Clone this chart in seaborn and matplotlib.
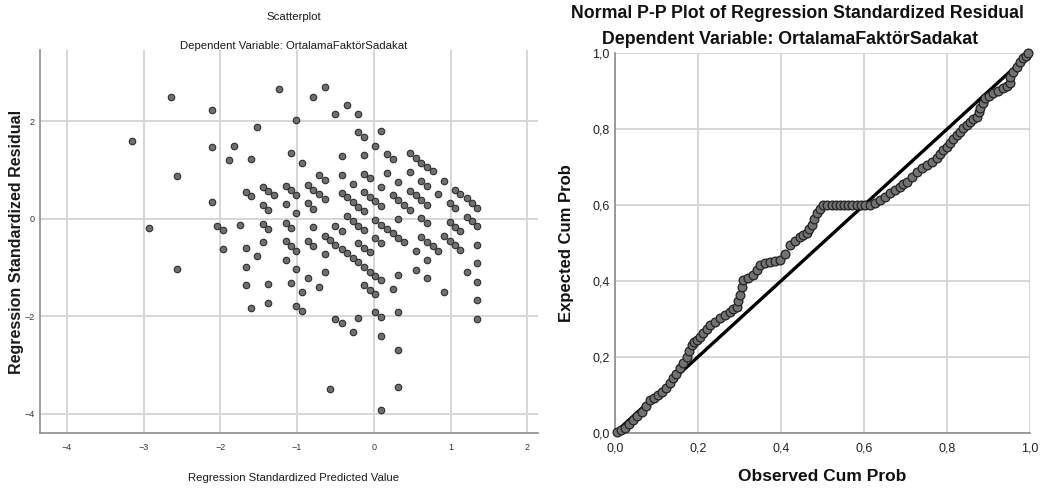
import numpy as np
import pandas as pd
import matplotlib
matplotlib.use("Agg")
import matplotlib.pyplot as plt
import seaborn as sns
from matplotlib.ticker import FuncFormatter

# ---------------- data: scatterplot (predicted vs residual) ----------------
pred_x = [
    -3.15, -2.64, -2.56, -2.93, -2.56,
    -2.11, -1.23, -0.79, -0.64, -0.50, -0.35, -0.20, -1.52, -1.01, -2.11,
    -1.82, -1.89, -1.60, -1.08, -0.94, -0.20, -0.13, 0.02, -0.42, -0.13,
    -0.42, -0.13, -0.05, -0.27, -0.71, -0.64, -0.86, -0.79, -0.71, -0.64,
    -0.42, -0.35, -0.27, -0.20, -0.13, -0.13, -0.05, 0.02, -1.15, -1.08,
    -1.01, -1.45, -1.38, -1.30, -1.67, -1.60, -2.11, -1.45, -1.38, -1.15,
    -1.01, -0.86, -0.79, -2.04, -1.97, -1.75, -1.45, -1.38, -1.15, -1.08,
    -0.79, -0.50, -0.42, -0.35, -0.27, -0.20, -0.13, 0.02, -1.97, -1.67,
    -1.52, -1.45, -1.15, -1.08, -1.01, -0.86, -0.79, -0.64, -0.57, -0.50,
    -0.42, -0.35, -0.27, -0.20, -0.13, -0.05, 0.02, -0.20, -0.13, -0.05,
    0.02, -0.64, -1.67, -1.15, -1.01, -0.86, -0.64, -0.71, -1.08, -0.94,
    -1.67, -1.38, -1.38, -1.60, -1.01, -0.94, -0.13, -0.05, 0.02, 0.02,
    -0.50, -0.42, -0.20, -0.27, -0.57,
    0.10, 0.10, 0.10, 0.10, 0.10, 0.10, 0.10, 0.10, 0.10, 0.17,
    0.25, 0.17, 0.32, 0.25, 0.32, 0.40, 0.47, 0.32, 0.17, 0.25,
    0.32, 0.40, 0.32, 0.25, 0.32, 0.32, 0.32, 0.47, 0.55, 0.62,
    0.69, 0.77, 0.47, 0.62, 0.69, 0.47, 0.55, 0.62, 0.69, 0.62,
    0.69, 0.55, 0.55, 0.62, 0.69, 0.77, 0.84, 0.69, 0.69, 0.84,
    0.91, 0.99, 1.06, 0.99, 1.06, 1.13, 0.91, 0.99, 1.06, 1.13,
    0.91, 1.06, 1.13, 1.21, 1.28, 1.35, 1.21, 1.28, 1.35, 1.35,
    1.35, 1.35, 1.35, 1.35, 1.21,
]
resid_y = [
    1.60, 2.49, 0.87, -0.19, -1.03,
    2.24, 2.67, 2.50, 2.70, 2.14, 2.34, 2.15, 1.89, 2.02, 1.48,
    1.49, 1.20, 1.22, 1.34, 1.15, 1.77, 1.68, 1.50, 1.29, 1.30,
    0.90, 0.92, 0.83, 0.72, 0.89, 0.79, 0.69, 0.59, 0.51, 0.41,
    0.53, 0.44, 0.34, 0.25, 0.15, 0.55, 0.45, 0.36, 0.68, 0.59,
    0.49, 0.66, 0.57, 0.48, 0.55, 0.46, 0.34, 0.28, 0.18, 0.30,
    0.12, 0.32, 0.21, -0.14, -0.23, -0.12, -0.10, -0.20, -0.08, -0.18,
    -0.17, -0.14, -0.24, 0.05, -0.04, -0.14, -0.23, -0.02, -0.61, -0.60,
    -0.77, -0.48, -0.46, -0.56, -0.65, -0.45, -0.55, -0.35, -0.44, -0.53,
    -0.62, -0.71, -0.80, -0.89, -0.99, -1.08, -1.17, -0.50, -0.60, -0.69,
    -0.40, -0.73, -0.98, -0.84, -1.03, -1.21, -1.10, -1.40, -1.32, -1.51,
    -1.36, -1.34, -1.72, -1.83, -1.78, -1.89, -1.36, -1.46, -1.55, -1.92,
    -2.05, -2.14, -2.03, -2.32, -3.49,
    1.79, 0.65, 0.27, -0.12, -0.49, -1.25, -2.01, -2.40, -3.92, 1.32,
    1.23, 0.94, 0.75, 0.48, 0.38, 0.29, 0.19, -0.01, -0.21, -0.30,
    -0.39, -0.48, -1.15, -1.44, -1.92, -2.68, -3.44, 1.34, 1.25, 1.15,
    1.06, 0.97, 0.95, 0.77, 0.68, 0.57, 0.48, 0.38, 0.29, 0.01,
    -0.08, -0.66, -1.04, -0.38, -0.47, -0.56, -0.66, -0.84, -1.22, 0.51,
    0.78, 0.32, 0.22, -0.07, -0.17, -0.25, -0.36, -0.45, -0.54, -0.64,
    -1.50, 0.60, 0.51, 0.42, 0.33, 0.23, 0.04, -0.05, -0.14, -0.53,
    -0.90, -1.29, -1.66, -2.05, -1.10,
]

# ---------------- data: normal P-P plot ----------------
observed_cum = [
    0.004, 0.014, 0.024, 0.034, 0.044, 0.054, 0.064, 0.074, 0.084, 0.094,
    0.104, 0.114, 0.124, 0.132, 0.140, 0.148, 0.157, 0.165, 0.173, 0.179,
    0.185, 0.191, 0.197, 0.205, 0.213, 0.221, 0.229, 0.241, 0.253, 0.265,
    0.277, 0.285, 0.293, 0.297, 0.301, 0.305, 0.309, 0.321, 0.333, 0.341,
    0.349, 0.361, 0.373, 0.385, 0.398, 0.410, 0.422, 0.434, 0.446, 0.454,
    0.462, 0.468, 0.474, 0.480, 0.486, 0.494, 0.502, 0.512, 0.522, 0.532,
    0.542, 0.552, 0.562, 0.572, 0.582, 0.592, 0.602, 0.614, 0.626, 0.639,
    0.651, 0.663, 0.675, 0.687, 0.695, 0.703, 0.715, 0.727, 0.739, 0.751,
    0.763, 0.775, 0.783, 0.791, 0.799, 0.807, 0.815, 0.823, 0.831, 0.839,
    0.847, 0.855, 0.863, 0.872, 0.876, 0.880, 0.886, 0.892, 0.902, 0.912,
    0.924, 0.936, 0.944, 0.952, 0.952, 0.960, 0.968, 0.976, 0.984, 0.990,
    0.996,
]
expected_cum = [
    0.003, 0.008, 0.012, 0.022, 0.033, 0.044, 0.055, 0.070, 0.086, 0.092,
    0.099, 0.108, 0.117, 0.130, 0.143, 0.156, 0.170, 0.185, 0.200, 0.215,
    0.231, 0.238, 0.244, 0.253, 0.262, 0.273, 0.284, 0.293, 0.302, 0.310,
    0.319, 0.325, 0.332, 0.347, 0.363, 0.383, 0.402, 0.409, 0.416, 0.429,
    0.442, 0.447, 0.451, 0.453, 0.455, 0.470, 0.495, 0.506, 0.517, 0.522,
    0.526, 0.536, 0.547, 0.562, 0.578, 0.589, 0.600, 0.600, 0.600, 0.600,
    0.600, 0.600, 0.600, 0.600, 0.600, 0.600, 0.600, 0.600, 0.606, 0.613,
    0.622, 0.631, 0.640, 0.648, 0.655, 0.662, 0.675, 0.688, 0.697, 0.706,
    0.714, 0.723, 0.734, 0.745, 0.754, 0.763, 0.774, 0.785, 0.793, 0.802,
    0.811, 0.820, 0.826, 0.833, 0.844, 0.855, 0.868, 0.881, 0.888, 0.895,
    0.901, 0.908, 0.914, 0.921, 0.938, 0.951, 0.965, 0.976, 0.987, 0.994,
    1.000,
]
diag_x = [0.0, 1.0]
diag_y = [0.0, 1.0]

x_ticks_left = [-4, -3, -2, -1, 0, 1, 2]
y_ticks_left = [-4, -2, 0, 2]
ticks_right = [0.0, 0.2, 0.4, 0.6, 0.8, 1.0]

sns.set_theme(style="white")
ARIAL = ["Liberation Sans", "DejaVu Sans"]
plt.rcParams["font.family"] = ARIAL

fig = plt.figure(figsize=(10.46, 4.95), dpi=100)
ax1 = fig.add_axes([40 / 1046, 1 - 433 / 495, (538 - 40) / 1046, (433 - 50) / 495])
ax2 = fig.add_axes([615 / 1046, 1 - 432.7 / 495, (1030 - 615) / 1046, (432.7 - 53.3) / 495])

grid_c = "#d6d6d6"
spine_c = "#8c8c8c"

# ---- left scatter ----
df1 = pd.DataFrame({"pred": pred_x, "resid": resid_y})
sns.scatterplot(data=df1, x="pred", y="resid", ax=ax1, s=22, color="#6f6f6f",
                edgecolor="#2e2e2e", linewidth=0.8, zorder=3)
ax1.set_xlim(-4.35, 2.14)
ax1.set_ylim(-4.39, 3.46)
ax1.set_xticks(x_ticks_left)
ax1.set_yticks(y_ticks_left)
ax1.grid(True, color=grid_c, linewidth=1.4)
ax1.set_axisbelow(True)
for s in ["top", "right"]:
    ax1.spines[s].set_visible(False)
for s in ["left", "bottom"]:
    ax1.spines[s].set_color(spine_c)
    ax1.spines[s].set_linewidth(1.2)
ax1.tick_params(axis="x", length=0, labelsize=6.5, labelcolor="#333333", pad=7)
ax1.tick_params(axis="y", length=0, labelsize=6.5, labelcolor="#333333", pad=4)
ax1.set_xlabel("Regression Standardized Predicted Value", fontsize=8.2,
               color="#1a1a1a")
ax1.xaxis.set_label_coords(0.51, -0.105)
ax1.set_ylabel("Regression Standardized Residual", fontsize=11.5, fontweight="bold",
               color="#1a1a1a")
ax1.yaxis.set_label_coords(-0.032, 0.5)
fig.text(294 / 1046, 1 - 17 / 495, "Scatterplot", ha="center", va="center",
         fontsize=8.2, color="#1a1a1a")
fig.text(294 / 1046, 1 - 46 / 495, "Dependent Variable: OrtalamaFaktörSadakat",
         ha="center", va="center", fontsize=8.2, color="#1a1a1a")

# ---- right P-P plot ----
df_line = pd.DataFrame({"x": diag_x, "y": diag_y})
sns.lineplot(data=df_line, x="x", y="y", ax=ax2, color="black", linewidth=2.4, zorder=2)
df2 = pd.DataFrame({"obs": observed_cum, "exp": expected_cum})
sns.scatterplot(data=df2, x="obs", y="exp", ax=ax2, s=40, color="#727272",
                edgecolor="#222222", linewidth=0.9, zorder=3, clip_on=False)
ax2.set_xlim(0, 1)
ax2.set_ylim(0, 1)
ax2.set_xticks(ticks_right)
ax2.set_yticks(ticks_right)
fmt = FuncFormatter(lambda v, p: f"{v:.1f}".replace(".", ","))
ax2.xaxis.set_major_formatter(fmt)
ax2.yaxis.set_major_formatter(fmt)
ax2.grid(True, color=grid_c, linewidth=1.4)
ax2.set_axisbelow(True)
for s in ["top", "right"]:
    ax2.spines[s].set_visible(False)
for s in ["left", "bottom"]:
    ax2.spines[s].set_color(spine_c)
    ax2.spines[s].set_linewidth(1.2)
ax2.tick_params(axis="x", length=0, labelsize=9, labelcolor="#222222", pad=7)
ax2.tick_params(axis="y", length=0, labelsize=9, labelcolor="#222222", pad=4)
ax2.set_xlabel("Observed Cum Prob", fontsize=12.5, fontweight="bold", color="#111111")
ax2.xaxis.set_label_coords(0.5, -0.095)
ax2.set_ylabel("Expected Cum Prob", fontsize=12, fontweight="bold", color="#111111")
ax2.yaxis.set_label_coords(-0.10, 0.5)
fig.text(797 / 1046, 1 - 14 / 495, "Normal P-P Plot of Regression Standardized Residual",
         ha="center", va="center", fontsize=12.8, fontweight="bold", color="#111111")
fig.text(790 / 1046, 1 - 40 / 495, "Dependent Variable: OrtalamaFaktörSadakat",
         ha="center", va="center", fontsize=12.8, fontweight="bold", color="#111111")

fig.savefig("out.png", dpi=100)
